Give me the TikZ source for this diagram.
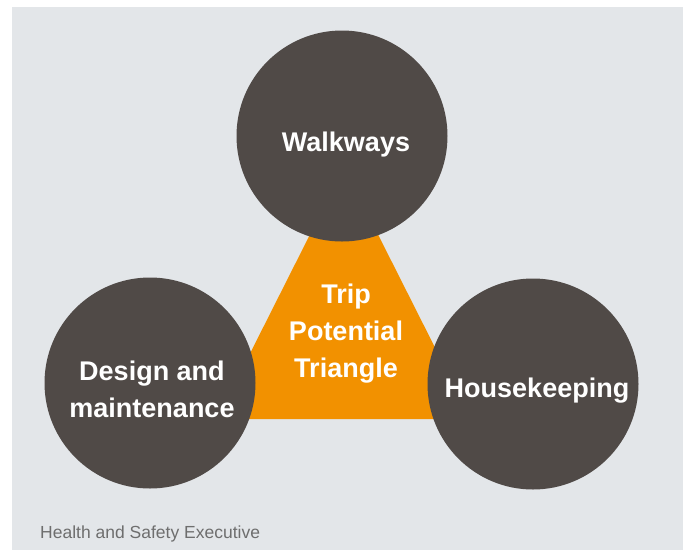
\documentclass[tikz,border=0pt]{standalone}
\usepackage{fontspec}
\setmainfont{Liberation Sans}
\definecolor{backgray}{HTML}{E3E6E9}
\definecolor{bubble}{HTML}{504A47}
\definecolor{triorange}{HTML}{F29100}
\definecolor{footgray}{HTML}{6E6E6E}
\tikzset{
  bubble/.style={circle, fill=bubble, minimum size=211pt, inner sep=0pt},
  bubbletext/.style={text=white, font=\fontsize{27}{37}\selectfont\bfseries, align=center, anchor=base, inner sep=0pt}
}
\begin{document}
\begin{tikzpicture}[x=1pt, y=-1pt]
    \useasboundingbox (0, 0) rectangle (683, 550);
    \fill[backgray] (12, 7) rectangle (683, 550);

    % Triangle
    \fill[triorange] (344, 167) -- (471, 419) -- (217, 419) -- cycle;

    % Circles
    \node[bubble] (walkways) at (342, 136) {};
    \node[bubble] (design) at (150, 383) {};
    \node[bubble] (housekeeping) at (533, 384) {};

    % Labels (base = last line)
    \node[bubbletext] (walkways-t) at (346, 151) {Walkways};
    \node[bubbletext] (design-t) at (152, 417) {Design and\\maintenance};
    \node[bubbletext] (housekeeping-t) at (537, 397) {Housekeeping};
    \node[bubbletext] (triangle-t) at (346, 377) {Trip\\Potential\\Triangle};

    \node[anchor=base west, inner sep=0pt, text=footgray, font=\fontsize{17.5}{20}\selectfont] (source) at (40, 538) {Health and Safety Executive};
  \end{tikzpicture}
\end{document}
